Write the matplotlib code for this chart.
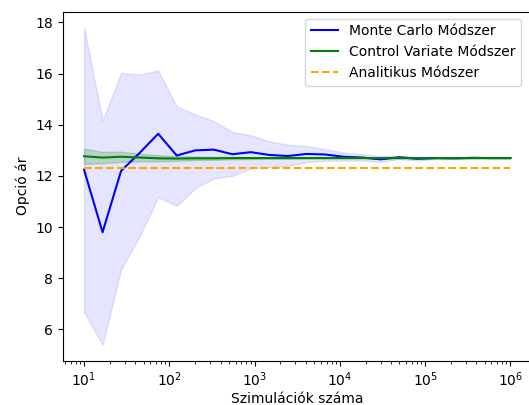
import numpy as np
import matplotlib
matplotlib.use("Agg")
import matplotlib.pyplot as plt

# simulation counts (log-spaced, 24 steps from 10 to 1e6)
n_sims = np.logspace(1, 6, 24)

mc_price = [12.25, 9.8, 12.2, 12.9, 13.65, 12.8, 13.0, 13.03, 12.85, 12.93, 12.82, 12.78,
            12.86, 12.84, 12.75, 12.72, 12.65, 12.73, 12.67, 12.7, 12.69, 12.71, 12.7, 12.7]
mc_upper = [17.8, 14.17, 16.03, 15.96, 16.12, 14.72, 14.41, 14.14, 13.72, 13.59, 13.35, 13.22,
            13.17, 13.05, 12.92, 12.85, 12.78, 12.8, 12.75, 12.74, 12.73, 12.74, 12.72, 12.72]
mc_lower = [6.69, 5.4, 8.35, 9.64, 11.17, 10.83, 11.52, 11.91, 12.0, 12.3, 12.35, 12.4,
            12.55, 12.6, 12.6, 12.6, 12.55, 12.66, 12.6, 12.66, 12.65, 12.68, 12.68, 12.68]

cv_price = [12.77, 12.72, 12.75, 12.72, 12.69, 12.68, 12.69, 12.69, 12.7, 12.7, 12.7, 12.7,
            12.7, 12.7, 12.7, 12.7, 12.7, 12.7, 12.7, 12.7, 12.7, 12.7, 12.7, 12.7]
cv_halfwidth = [0.3, 0.22, 0.2, 0.15, 0.12, 0.09, 0.07, 0.06, 0.05, 0.04, 0.03, 0.03,
                0.02, 0.02, 0.02, 0.01, 0.01, 0.01, 0.01, 0.01, 0.01, 0.01, 0.01, 0.01]

analytic_price = 12.32

fig = plt.figure(figsize=(5.29, 4.05), dpi=100)
# the reference is cropped on the right, so the axes runs slightly past the canvas
ax = fig.add_axes([62.7 / 529, 44.3 / 405, 469 / 529, 349 / 405])

cv = np.array(cv_price)
hw = np.array(cv_halfwidth)

ax.plot(n_sims, mc_price, color='blue', label='Monte Carlo Módszer')
ax.fill_between(n_sims, mc_lower, mc_upper, color='blue', alpha=0.1)
ax.plot(n_sims, cv, color='green', label='Control Variate Módszer')
ax.fill_between(n_sims, cv - hw, cv + hw, color='green', alpha=0.2)
ax.plot(n_sims, [analytic_price] * len(n_sims), color='orange', linestyle='--',
        label='Analitikus Módszer')

ax.set_xscale('log')
ax.set_xlabel('Szimulációk száma', labelpad=2.5)
ax.set_ylabel('Opció ár')
ax.legend(loc='upper right', bbox_to_anchor=(0.993, 1.0))

fig.savefig('out.png', dpi=100)
